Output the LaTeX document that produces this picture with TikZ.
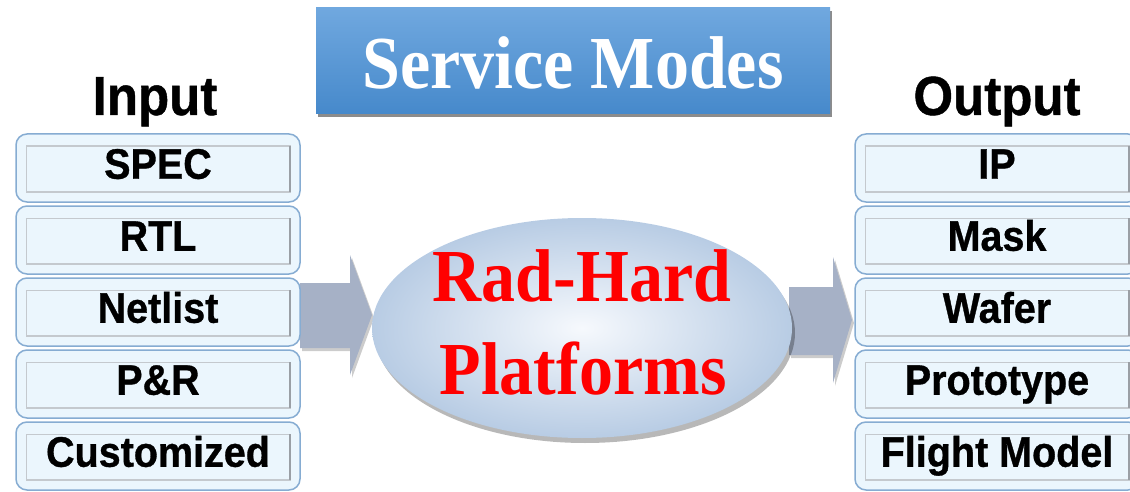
\documentclass[tikz,border=0pt]{standalone}
\usepackage{fontspec}
\usepackage{graphicx}
\setmainfont{Liberation Serif}
\newfontfamily\labelfont{Liberation Sans Bold}[FakeBold=0.8]
\usetikzlibrary{shapes.geometric,shadows}

\definecolor{boxfill}{HTML}{EBF6FD}
\definecolor{boxedge}{HTML}{86ACD2}
\definecolor{inneredge}{HTML}{C4C9CE}
\definecolor{innerdark}{HTML}{9A9FA5}
\definecolor{arrowgray}{HTML}{A6B1C6}
\definecolor{titletop}{HTML}{70A8DF}
\definecolor{titlebot}{HTML}{4689CB}
\definecolor{ellin}{HTML}{F6F9FD}
\definecolor{ellout}{HTML}{B8CCE4}
\definecolor{hardred}{HTML}{FF0000}

% text set slightly taller than wide
\newcommand{\tallt}[1]{\scalebox{1}[1.08]{#1}}

\begin{document}
\begin{tikzpicture}[x=1pt,y=-1pt,
  itembox/.style={draw=boxedge, line width=1.5pt, fill=boxfill,
    rounded corners=11pt, minimum width=284pt, minimum height=68pt, inner sep=0pt},
  innerframe/.style={draw=inneredge, line width=1.5pt},
  innershade/.style={draw=innerdark, line width=1.8pt},
  itemtext/.style={font=\labelfont\fontsize{39.5}{40}\selectfont,
    anchor=base, inner sep=0pt},
  headtext/.style={font=\labelfont\fontsize{51}{52}\selectfont,
    anchor=base, inner sep=0pt},
  titlebox/.style={top color=titletop, bottom color=titlebot,
    minimum width=514pt, minimum height=106pt, inner sep=0pt,
    drop shadow={shadow xshift=1.5pt, shadow yshift=-3pt, opacity=0.45, fill=black}},
  titletext/.style={font=\bfseries\fontsize{68}{70}\selectfont, text=white,
    anchor=base, inner sep=0pt},
  platform/.style={ellipse, inner color=ellin, outer color=ellout,
    minimum width=420pt, minimum height=220pt, inner sep=0pt,
    drop shadow={shadow xshift=3pt, shadow yshift=-5pt, opacity=0.28, fill=black}},
  coretext/.style={font=\bfseries\fontsize{68}{70}\selectfont, text=hardred,
    anchor=base, inner sep=0pt},
  blockarrow/.style={fill=arrowgray,
    drop shadow={shadow xshift=2pt, shadow yshift=-3pt, opacity=0.2, fill=black}}
]
\useasboundingbox (0,0) rectangle (1130,492);
\clip (0,0) rectangle (1130,492);

% title
\node[titlebox] (title) at (573,61) {};
\node[titletext] (titlelbl) at (573,89) {\scalebox{1}[1.1]{Service Modes}};

% column headings
\node[headtext] (inhead) at (155,115) {\tallt{Input}};
\node[headtext] (outhead) at (997,115) {\tallt{Output}};

% block arrows into and out of the platform
\coordinate (la) at (300,315);
\coordinate (ra) at (789,320);
\path[blockarrow] (la) ++(0,-32) -- ++(50,0) -- ++(0,-28) -- (372,315)
  -- (350,375) -- (350,348) -- (300,348) -- cycle;
\path[blockarrow] (ra) ++(0,-33) -- ++(44,0) -- ++(0,-30) -- (852,320)
  -- (833,383) -- (833,355) -- (789,355) -- cycle;

% central platform
\node[platform] (core) at (582,328) {};
\node[coretext] (core1) at (582,301) {\scalebox{1}[1.1]{Rad-Hard}};
\node[coretext] (core2) at (583,394) {\scalebox{1}[1.1]{Platforms}};

% input items
\foreach \lbl [count=\i] in {SPEC,RTL,Netlist,P\&R,Customized} {
  \node[itembox] (in\i) at (158,{96+72*\i}) {};
  \draw[innerframe] ([xshift=11pt,yshift=-13pt]in\i.north west)
    rectangle ([xshift=-11pt,yshift=11pt]in\i.south east);
  \draw[innershade] ([xshift=-11pt,yshift=-13pt]in\i.north east)
    -- ([xshift=-11pt,yshift=11pt]in\i.south east);
  \node[itemtext] (in\i-t) at ([yshift=24pt]in\i.south) {\tallt{\lbl}};
}

% output items
\foreach \lbl [count=\i] in {IP,Mask,Wafer,Prototype,Flight Model} {
  \node[itembox] (out\i) at (997,{96+72*\i}) {};
  \draw[innerframe] ([xshift=11pt,yshift=-13pt]out\i.north west)
    rectangle ([xshift=-11pt,yshift=11pt]out\i.south east);
  \draw[innershade] ([xshift=-11pt,yshift=-13pt]out\i.north east)
    -- ([xshift=-11pt,yshift=11pt]out\i.south east);
  \node[itemtext] (out\i-t) at ([yshift=24pt]out\i.south) {\tallt{\lbl}};
}
\end{tikzpicture}
\end{document}
